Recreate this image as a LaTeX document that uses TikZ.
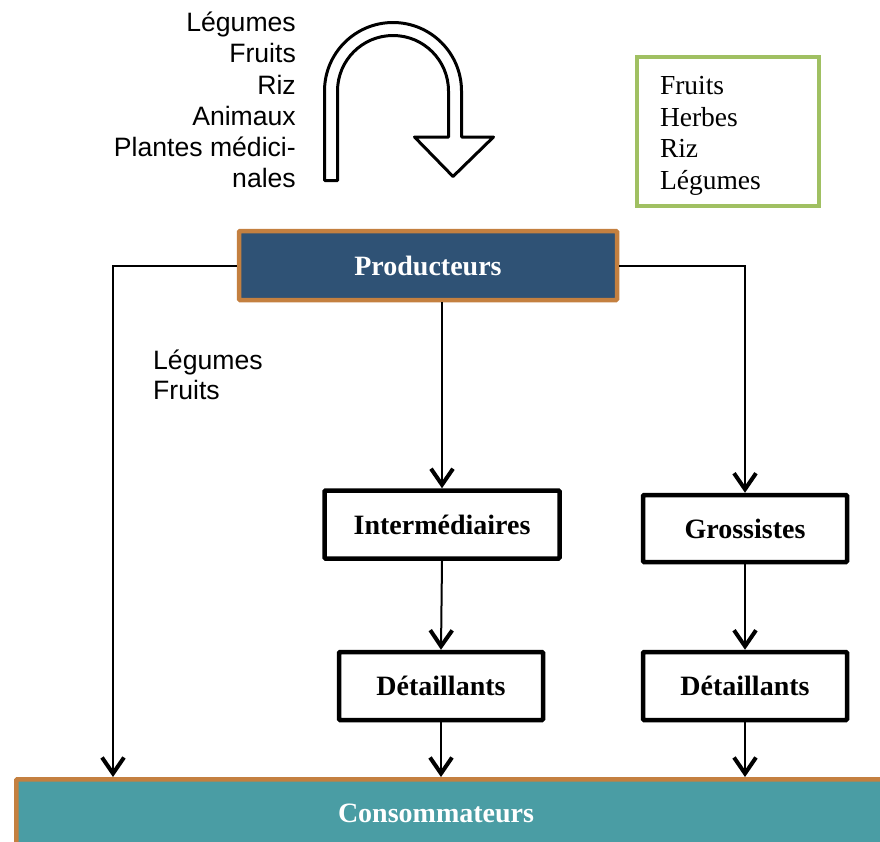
\documentclass[tikz,border=0pt]{standalone}
\usepackage{fontspec}
\setmainfont{Liberation Serif}
\setsansfont{Liberation Sans}
\usetikzlibrary{arrows.meta}
\definecolor{prodblue}{RGB}{47,82,117}
\definecolor{boxorange}{RGB}{196,128,64}
\definecolor{consteal}{RGB}{74,157,164}
\definecolor{listgreen}{RGB}{160,192,98}

\begin{document}
\begin{tikzpicture}[x = 1pt, y = -1pt,
        box/.style = {draw, line width = 4.5pt, fill = white, rounded corners = 1pt, inner sep = 0pt, font = \fontsize{28}{34}\selectfont\bfseries},
        arr/.style = {line width = 2pt, -{Straight Barb[length = 16pt, width = 22pt, line width = 4pt]}},
        liste/.style = {inner sep = 0pt, font = \sffamily\fontsize{26.6}{31.2}\selectfont}]
        \useasboundingbox (0,0) rectangle (880,841);
        % products and turning arrow
        \node[liste, align = right, anchor = east](listeHaut)at(296,100){Légumes\\Fruits\\Riz\\Animaux\\Plantes médici-\\nales};
        \draw[line width = 3pt, line join = round](324.5,180.5)--(324.5,91)arc[start angle = 180, end angle = 360, radius = 68.5]--(461.5,137)--(493.5,137)--(453,176.5)--(414.5,137)--(448.5,137)--(448.5,91)arc[start angle = 360, end angle = 180, radius = 55.5]--(337.5,180.5)--cycle;
        \node[draw = listgreen, line width = 4pt, minimum width = 182pt, minimum height = 149pt, inner xsep = 23pt, text width = 136pt, align = left, font = \fontsize{27.5}{31.5}\selectfont](produits)at(728,131.5){\rule{0pt}{27pt}Fruits\\Herbes\\Riz\\Légumes};
        % boxes
        \node[box, draw = boxorange, fill = prodblue, text = white, minimum width = 378pt, minimum height = 69pt](prod)at(428,265.5){Producteurs};
        \node[box, minimum width = 235pt, minimum height = 68pt](inter)at(442,524.5){Intermédiaires};
        \node[box, minimum width = 204pt, minimum height = 67pt](gros)at(745,528.5){Grossistes};
        \node[box, minimum width = 204pt, minimum height = 68pt](det1)at(441,686){Détaillants};
        \node[box, minimum width = 204pt, minimum height = 68pt](det2)at(745,686){Détaillants};
        \node[box, draw = boxorange, fill = consteal, minimum width = 900pt, minimum height = 80pt, anchor = north west](cons)at(14,777){};
        \node[font = \fontsize{28}{34}\selectfont\bfseries, text = white](consTexte)at(436,813){Consommateurs};
        \node[liste, align = left, anchor = west, font = \sffamily\fontsize{26.6}{30}\selectfont](listeGauche)at(153,375){Légumes\\Fruits};
        % arrows
        \coordinate(consG)at(113,777);
        \draw[arr](prod.west)-|(consG);
        \draw[arr](prod.east)-|(gros.north);
        \draw[arr](prod.south -| inter.north)--(inter.north);
        \draw[arr](inter.south)--(det1.north);
        \draw[arr](gros.south)--(det2.north);
        \draw[arr](det1.south)--(det1.south |- cons.north);
        \draw[arr](det2.south)--(det2.south |- cons.north);
    \end{tikzpicture}
\end{document}
